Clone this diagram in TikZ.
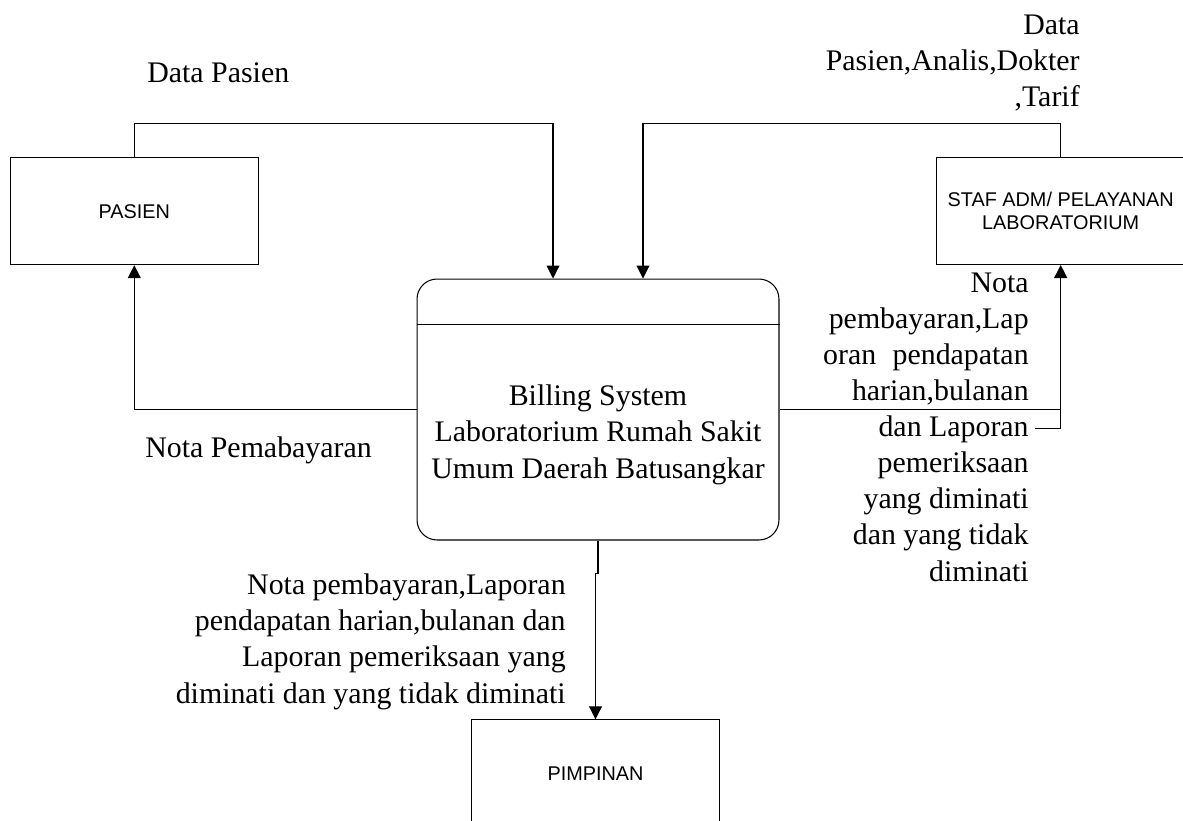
\documentclass[tikz,border=0pt]{standalone}
\usepackage{fontspec}
\setmainfont{Liberation Serif}
\newfontfamily\boxfont{Liberation Sans}
\usepackage{tikz}
\usetikzlibrary{arrows.meta, positioning}

\tikzset{
	entity/.style={draw, line width=0.6pt, minimum width=4.96cm, minimum height=2.14cm, inner sep=0pt, align=center, font=\boxfont\fontsize{11.3}{13.1}\selectfont},
	process/.style={draw, line width=0.6pt, rounded corners=0.4cm, minimum width=7.24cm, minimum height=5.22cm, inner sep=0pt},
	flow/.style={line width=0.6pt, -{Triangle[length=0.26cm, width=0.26cm]}},
	wire/.style={line width=0.6pt},
	lbl/.style={inner sep=0pt, font=\fontsize{17}{20.5}\selectfont},
}

\begin{document}
\begin{tikzpicture}[x=0.02cm, y=-0.02cm]
	\useasboundingbox[fill=white] (0, 0) rectangle (1183, 821);
	% Entities and process:
	\node[entity](pasien) at (134.3, 211.2){PASIEN};
	\node[entity](staf) at (1060.7, 211){STAF ADM/ PELAYANAN\\LABORATORIUM};
	\node[entity](pimpinan) at (595.5, 773.3){PIMPINAN};
	\node[process](proc) at (598, 409.5){};
	\draw[wire] ([yshift=-0.92cm]proc.north west) -- ([yshift=-0.92cm]proc.north east);
	\node[lbl, align=center, anchor=base](procname) at (598, 478){Billing System\\Laboratorium Rumah Sakit\\Umum Daerah Batusangkar};
	% Data flows:
	\draw[flow] (pasien.north) -- (134.3, 123.3) -| ([xshift=-0.9cm]proc.north);
	\draw[flow] (staf.north) -- (1060.7, 123.3) -| ([xshift=0.9cm]proc.north);
	\draw[flow] (proc.west) -| (pasien.south);
	\draw[flow] (proc.east) -| (staf.south);
	\draw[wire] (staf.south |- proc.east) -- ++(0, 19) -- ++(-26, 0);
	\draw[flow] (proc.south) -- ++(0, 33) -| (pimpinan.north);
	% Flow labels:
	\node[lbl, anchor=base west](lDataPasien) at (147, 83){Data Pasien};
	\node[lbl, align=right, anchor=base east](lDataStaf) at (1080, 107){Data\\Pasien,Analis,Dokter\\,Tarif};
	\node[lbl, anchor=base west](lNota) at (145, 457){Nota Pemabayaran};
	\node[lbl, align=right, anchor=base east](lLapStaf) at (1029, 581){Nota\\pembayaran,Lap\\oran\hspace{0.55em}pendapatan\\harian,bulanan\\dan Laporan\\pemeriksaan\\yang diminati\\dan yang tidak\\diminati};
	\node[lbl, align=right, anchor=base east](lLapPim) at (566, 703){Nota pembayaran,Laporan\\pendapatan harian,bulanan dan\\Laporan pemeriksaan yang\\diminati dan yang tidak diminati};
\end{tikzpicture}
\end{document}
